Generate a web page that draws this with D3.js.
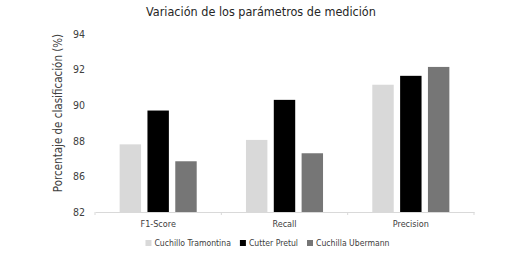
<!DOCTYPE html>
<html>
<head>
<meta charset="utf-8">
<script src="https://cdn.jsdelivr.net/npm/d3@7"></script>
<style>
    body { margin: 0; background: #fff; }
    text { font-family: "Liberation Sans Narrow", "DejaVu Sans Condensed", "Liberation Sans", sans-serif; }
</style>
</head>
<body>
<div id="chart"></div>
<script>
const categories = ["F1-Score", "Recall", "Precision"];
const seriesNames = ["Cuchillo Tramontina", "Cutter Pretul", "Cuchilla Ubermann"];
const tramontina = [87.8, 88.05, 91.15];
const pretul = [89.7, 90.3, 91.65];
const ubermann = [86.85, 87.3, 92.15];
const yTicks = [84, 86, 88, 90, 92, 94];
const yTickLabels = ["82", "86", "88", "90", "92", "94"];
const colors = ["#d9d9d9", "#000000", "#767676"];

const dims = {width: 528, height: 253};
const plot = {left: 95, right: 474, top: 34, bottom: 212};

const svg = d3.select("#chart")
    .append("svg")
    .attr("width", dims.width)
    .attr("height", dims.height);

const x0 = d3.scaleBand()
    .domain(categories)
    .range([plot.left, plot.right])
    .paddingInner(0.39)
    .paddingOuter(0.195);

const x1 = d3.scaleBand()
    .domain(seriesNames)
    .range([0, x0.bandwidth()])
    .paddingInner(0.23);

const y = d3.scaleLinear()
    .domain([84, 94])
    .range([plot.bottom, plot.top]);

const series = [tramontina, pretul, ubermann];
const rows = [];
categories.forEach((c, i) => {
    seriesNames.forEach((s, j) => {
        rows.push({cat: c, name: s, value: series[j][i], color: colors[j]});
    });
});

// title
svg.append("text")
    .attr("x", 261)
    .attr("y", 16)
    .attr("text-anchor", "middle")
    .attr("font-size", 12.5)
    .attr("fill", "#262626")
    .text("Variación de los parámetros de medición");

// y axis (labels only)
const yAxis = svg.append("g")
    .attr("transform", `translate(${plot.left - 7},0)`)
    .call(d3.axisLeft(y)
        .tickValues(yTicks)
        .tickSize(0)
        .tickPadding(3)
        .tickFormat((d, i) => yTickLabels[i]));
yAxis.select(".domain").remove();
yAxis.selectAll("text")
    .attr("font-size", 10.5)
    .attr("fill", "#404040");

svg.append("text")
    .attr("transform", "translate(62,113) rotate(-90)")
    .attr("text-anchor", "middle")
    .attr("font-size", 11.5)
    .attr("fill", "#404040")
    .text("Porcentaje de clasificación (%)");

// bars
svg.append("g")
    .selectAll("rect")
    .data(rows)
    .enter()
    .append("rect")
    .attr("x", d => x0(d.cat) + x1(d.name))
    .attr("y", d => y(d.value))
    .attr("width", x1.bandwidth())
    .attr("height", d => y(84) - y(d.value))
    .attr("fill", d => d.color);

// x axis
const step = x0.step();
const xAxis = svg.append("g")
    .attr("transform", `translate(0,${plot.bottom})`)
    .call(d3.axisBottom(x0).tickSize(0).tickPadding(9).tickSizeOuter(0));
xAxis.select(".domain").attr("stroke", "#d9d9d9");
xAxis.selectAll("text")
    .attr("font-size", 9)
    .attr("fill", "#404040");
xAxis.selectAll(".sep")
    .data(d3.range(categories.length + 1))
    .enter()
    .append("line")
    .attr("x1", i => plot.left + i * step)
    .attr("x2", i => plot.left + i * step)
    .attr("y1", 0)
    .attr("y2", 3)
    .attr("stroke", "#d9d9d9");

// legend, laid out from measured text widths
const legend = svg.append("g");
const items = legend.selectAll("g")
    .data(seriesNames)
    .enter()
    .append("g");
items.append("rect")
    .attr("x", 0)
    .attr("y", -3)
    .attr("width", 6)
    .attr("height", 6)
    .attr("fill", (d, i) => colors[i]);
items.append("text")
    .attr("x", 9)
    .attr("y", 3)
    .attr("font-size", 8.6)
    .attr("fill", "#404040")
    .text(d => d);
let pos = 0;
items.each(function() {
    const w = d3.select(this).select("text").node().getComputedTextLength();
    d3.select(this).attr("transform", `translate(${pos},0)`);
    pos += 9 + w + 9;
});
const total = pos - 9;
legend.attr("transform", `translate(${267.5 - total / 2},243)`);
</script>
</body>
</html>
